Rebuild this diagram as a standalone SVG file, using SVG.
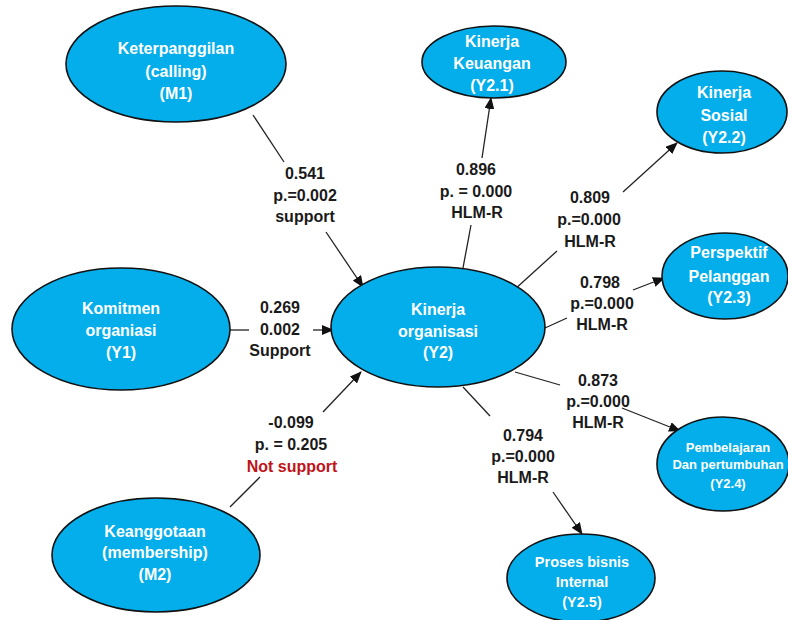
<svg xmlns="http://www.w3.org/2000/svg" width="788" height="620" viewBox="0 0 788 620">
  <defs>
    <marker id="arrow" markerUnits="userSpaceOnUse" markerWidth="12" markerHeight="10" refX="11" refY="5" orient="auto">
      <path d="M0,0 L12,5 L0,10 Z" fill="#111"/>
    </marker>
    <style>
      .node ellipse { fill: #03AEEB; stroke: #111; stroke-width: 1.6; }
      .node text { fill: #fff; font-family: "Liberation Sans", Arial, sans-serif; font-weight: bold; font-size: 16px; text-anchor: middle; }
      .node.small text { font-size: 13px; }
      .node.mid text { font-size: 14.5px; }
      .conn line { stroke: #222; stroke-width: 1.3; }
      .conn line.arr { marker-end: url(#arrow); }
      .lbl { fill: #1a1a1a; font-family: "Liberation Sans", Arial, sans-serif; font-weight: bold; font-size: 16px; text-anchor: middle; }
      .lbl .red { fill: #c0141a; }
    </style>
  </defs>
  <rect width="788" height="620" fill="#fff"/>

  <!-- connectors, each split around its label -->
  <g id="connectors" class="conn">
    <line x1="253" y1="115" x2="284" y2="162"/>
    <line class="arr" x1="326" y1="232" x2="363" y2="287"/>

    <line x1="230" y1="330" x2="249" y2="330"/>
    <line class="arr" x1="313" y1="330" x2="333" y2="330"/>

    <line x1="230" y1="507" x2="260" y2="477"/>
    <line class="arr" x1="323" y1="412" x2="361" y2="372"/>

    <line x1="463" y1="268" x2="471" y2="225"/>
    <line class="arr" x1="482" y1="158" x2="491" y2="98"/>

    <line x1="514" y1="290" x2="557" y2="251"/>
    <line class="arr" x1="623" y1="192" x2="677" y2="143"/>

    <line x1="545" y1="328" x2="567" y2="318"/>
    <line class="arr" x1="633" y1="290" x2="664" y2="278"/>

    <line x1="515" y1="372" x2="560" y2="385"/>
    <line class="arr" x1="622" y1="408" x2="680" y2="431"/>

    <line x1="463" y1="387" x2="490" y2="416"/>
    <line class="arr" x1="553" y1="492" x2="582" y2="534"/>
  </g>

  <!-- path labels -->
  <g id="labels" class="lbl">
    <text x="305" y="179">0.541</text>
    <text x="305" y="201">p.=0.002</text>
    <text x="305" y="222">support</text>

    <text x="280" y="313">0.269</text>
    <text x="280" y="335">0.002</text>
    <text x="280" y="356">Support</text>

    <text x="291" y="428">-0.099</text>
    <text x="291" y="450">p. = 0.205</text>
    <text x="292" y="472" class="red">Not support</text>

    <text x="476" y="175">0.896</text>
    <text x="476" y="197">p. = 0.000</text>
    <text x="477" y="218">HLM-R</text>

    <text x="590" y="203">0.809</text>
    <text x="589" y="225">p.=0.000</text>
    <text x="590" y="247">HLM-R</text>

    <text x="600" y="288">0.798</text>
    <text x="602" y="309">p.=0.000</text>
    <text x="602" y="330">HLM-R</text>

    <text x="598" y="386">0.873</text>
    <text x="598" y="407">p.=0.000</text>
    <text x="598" y="428">HLM-R</text>

    <text x="523" y="441">0.794</text>
    <text x="523" y="462">p.=0.000</text>
    <text x="523" y="483">HLM-R</text>
  </g>

  <!-- nodes -->
  <g id="M1" class="node">
    <ellipse cx="176" cy="64" rx="110" ry="58"/>
    <text x="176" y="54">Keterpanggilan</text>
    <text x="176" y="77">(calling)</text>
    <text x="176" y="99">(M1)</text>
  </g>

  <g id="Y1" class="node">
    <ellipse cx="121" cy="329" rx="109" ry="61"/>
    <text x="121" y="314">Komitmen</text>
    <text x="121" y="336">organiasi</text>
    <text x="121" y="358">(Y1)</text>
  </g>

  <g id="M2" class="node">
    <ellipse cx="156" cy="555" rx="104" ry="57"/>
    <text x="155" y="537">Keanggotaan</text>
    <text x="155" y="558">(membership)</text>
    <text x="155" y="580">(M2)</text>
  </g>

  <g id="Y2" class="node">
    <ellipse cx="438" cy="327" rx="107" ry="60"/>
    <text x="438" y="315">Kinerja</text>
    <text x="438" y="337">organisasi</text>
    <text x="438" y="358">(Y2)</text>
  </g>

  <g id="Y2-1" class="node">
    <ellipse cx="494" cy="62" rx="72" ry="36"/>
    <text x="492" y="47">Kinerja</text>
    <text x="492" y="69">Keuangan</text>
    <text x="492" y="91">(Y2.1)</text>
  </g>

  <g id="Y2-2" class="node">
    <ellipse cx="722" cy="112" rx="65" ry="41"/>
    <text x="724" y="98">Kinerja</text>
    <text x="724" y="121">Sosial</text>
    <text x="724" y="143">(Y2.2)</text>
  </g>

  <g id="Y2-3" class="node">
    <ellipse cx="725" cy="276" rx="63" ry="43"/>
    <text x="729" y="258">Perspektif</text>
    <text x="729" y="282">Pelanggan</text>
    <text x="729" y="303">(Y2.3)</text>
  </g>

  <g id="Y2-4" class="node small">
    <ellipse cx="723" cy="464" rx="66" ry="47"/>
    <text x="728" y="452">Pembelajaran</text>
    <text x="728" y="469">Dan pertumbuhan</text>
    <text x="728" y="488">(Y2.4)</text>
  </g>

  <g id="Y2-5" class="node mid">
    <ellipse cx="581" cy="578" rx="74" ry="44"/>
    <text x="582" y="567">Proses bisnis</text>
    <text x="582" y="587">Internal</text>
    <text x="582" y="607">(Y2.5)</text>
  </g>
</svg>
